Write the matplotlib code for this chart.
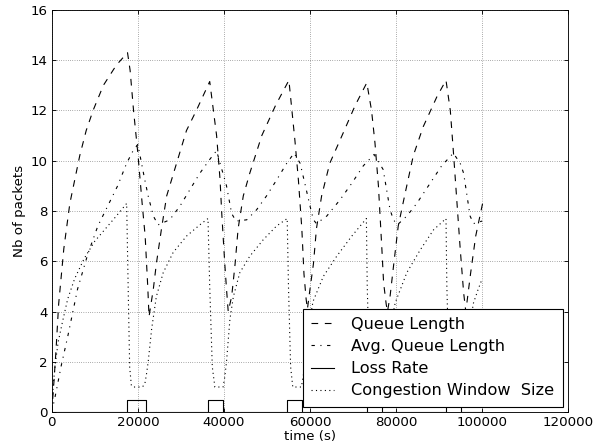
import matplotlib
matplotlib.use("Agg")
import matplotlib.pyplot as plt

# queue length (dashed)
queue_t = [0, 500, 1000, 1600, 2800, 4200, 6500, 8000, 9600, 12000, 15000, 17600,
           18200, 19000, 20000, 21000, 21700, 22300, 22600,
           23600, 24300, 25500, 26700, 29000, 31300, 33600, 36700,
           38300, 39100, 39500, 40200, 40600, 41000,
           41800, 42600, 43300, 44500, 46000, 48800, 52000, 55100,
           56500, 57300, 58100, 58600, 59100, 59400,
           60000, 60800, 61500, 62700, 64600, 67700, 70500, 73200,
           74300, 75100, 75900, 76700, 77100, 77700, 78000,
           78600, 79400, 80500, 82100, 84000, 86300, 89500, 91600,
           92600, 93300, 94100, 94900, 95700, 96200,
           97300, 98500, 100100]
queue_v = [0, 1.2, 2.5, 4.3, 6.5, 8.3, 10.2, 11.2, 12.0, 13.0, 13.8, 14.3,
           13.6, 12.0, 10.3, 8.3, 7.0, 5.0, 3.8,
           4.9, 5.9, 7.3, 8.6, 9.9, 11.2, 12.0, 13.15,
           11.0, 9.25, 7.9, 5.9, 4.9, 4.0,
           4.6, 5.9, 7.3, 8.6, 9.5, 11.0, 12.2, 13.2,
           10.8, 9.25, 7.3, 5.5, 4.5, 4.1,
           4.9, 5.9, 7.3, 8.6, 9.9, 11.1, 12.2, 13.1,
           12.0, 10.7, 9.0, 6.5, 5.15, 4.3, 4.0,
           4.6, 5.8, 7.4, 8.7, 10.2, 11.35, 12.55, 13.2,
           12.0, 10.4, 8.45, 6.5, 4.75, 4.0,
           5.5, 7.0, 8.3]

# average queue length (dash-dot)
avg_t = [0, 1000, 2200, 3700, 6000, 8400, 10700, 13000, 15300, 17400, 18900, 20000,
         21600, 22400, 23600, 24700,
         27400, 29800, 32100, 34400, 36700, 38300,
         39100, 40200, 40600, 41800, 42800,
         45300, 47600, 49900, 52300, 54600, 56300,
         57700, 58800, 60000, 60800, 61500,
         63900, 67000, 69700, 72400, 74900,
         77000, 77800, 78600, 79400, 80300,
         82500, 84800, 87900, 90600, 93300,
         94900, 95700, 96400, 97200, 98000, 100000]
avg_v = [0, 0.8, 1.85, 3.0, 4.9, 6.3, 7.4, 8.2, 9.0, 9.9, 10.4, 10.65,
         9.25, 8.6, 7.8, 7.45,
         7.65, 8.2, 8.85, 9.5, 10.05, 10.4,
         9.9, 9.25, 9.0, 7.9, 7.6,
         7.65, 8.05, 8.6, 9.25, 9.9, 10.3,
         9.9, 9.1, 8.2, 7.65, 7.5,
         7.8, 8.45, 9.1, 9.8, 10.25,
         9.65, 8.85, 8.05, 7.65, 7.45,
         7.8, 8.3, 9.1, 9.8, 10.3,
         9.9, 9.5, 8.7, 7.8, 7.5, 7.6]

# congestion window (dotted)
cwnd_t = [0, 300, 800, 1500, 2500, 3700, 5300, 7500, 10000, 12500, 15000, 17400,
          17800, 18100, 18500, 19000, 21000, 21600, 22000, 22400, 23200, 24300, 25900, 28200, 31300, 34400, 36300,
          36700, 37300, 37900, 39800, 40200, 40600, 41400, 42200, 43700, 46000, 49100, 52200, 54700,
          55000, 55500, 56000, 58000, 58400, 58900, 59700, 60700, 63100, 66200, 69700, 73100,
          73300, 73800, 74300, 76600, 77100, 77700, 78600, 79800, 82500, 85600, 88700, 91600,
          91800, 92300, 92800, 95000, 95400, 96000, 96900, 98000, 99100, 100000]
cwnd_v = [0, 1.0, 1.9, 2.8, 3.6, 4.5, 5.3, 6.1, 6.8, 7.3, 7.8, 8.3,
          4.5, 1.8, 1.05, 1.0, 1.0, 1.1, 1.5, 2.0, 3.3, 4.6, 5.55, 6.35, 7.0, 7.45, 7.7,
          5.0, 1.8, 1.0, 1.0, 1.4, 2.0, 3.7, 4.6, 5.55, 6.2, 6.85, 7.4, 7.7,
          5.0, 1.8, 1.0, 1.0, 1.4, 2.0, 3.4, 4.4, 5.4, 6.2, 7.0, 7.7,
          5.0, 1.8, 1.0, 1.0, 1.4, 2.0, 3.3, 4.35, 5.55, 6.45, 7.25, 7.7,
          5.0, 1.8, 1.0, 1.0, 1.4, 2.0, 3.3, 4.35, 4.9, 5.3]

# loss rate periods (solid)
loss_on = [17400, 36300, 54700, 73300, 91600]
loss_off = [21900, 39800, 58100, 76700, 95100]
loss_level = 0.5
t_end = 100000

loss_t = [0]
loss_v = [0]
for a, b in zip(loss_on, loss_off):
    loss_t += [a, a, b, b]
    loss_v += [0, loss_level, loss_level, 0]
loss_t.append(t_end)
loss_v.append(0)

plt.rcParams['font.family'] = 'DejaVu Sans'
plt.rcParams['xtick.direction'] = 'in'
plt.rcParams['ytick.direction'] = 'in'

fig = plt.figure(figsize=(595 / 80, 448 / 80), dpi=80)
ax = fig.add_axes([0.087, 0.080, 0.868, 0.898])

ax.plot(queue_t, queue_v, color='k', lw=1, linestyle=(0, (6, 6)), label='Queue Length')
ax.plot(avg_t, avg_v, color='k', lw=1, linestyle=(0, (3, 5, 1, 5)), label='Avg. Queue Length')
ax.plot(loss_t, loss_v, color='k', lw=1, linestyle='-', label='Loss Rate')
ax.plot(cwnd_t, cwnd_v, color='k', lw=1, linestyle=(0, (1, 3)), label='Congestion Window  Size')

ax.set_xlim(0, 120000)
ax.set_ylim(0, 16)
ax.set_xticks(range(0, 120001, 20000))
ax.set_yticks(range(0, 17, 2))
ax.tick_params(top=True, right=True, labelsize=12, length=4)
ax.grid(True, color='k', lw=0.5, linestyle=(0, (1, 3)))
ax.set_xlabel('time (s)', fontsize=12, labelpad=1)
ax.set_ylabel('Nb of packets', fontsize=12)

leg = ax.legend(loc='lower right', fontsize=14.5, handlelength=1.4, handletextpad=1.1,
                borderpad=0.5, labelspacing=0.45, fancybox=False,
                framealpha=1, edgecolor='k', borderaxespad=0.35)
leg.get_frame().set_linewidth(1)

fig.savefig('out.png', dpi=80)
